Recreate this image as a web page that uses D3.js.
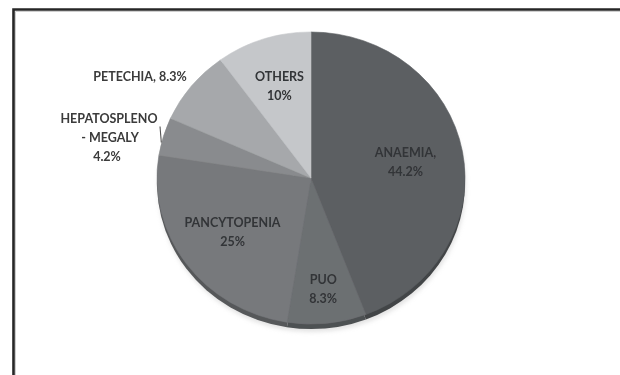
<!DOCTYPE html>
<html>
<head>
<meta charset="utf-8">
<script src="https://cdn.jsdelivr.net/npm/d3@7"></script>
<style>
  html, body { margin: 0; padding: 0; background: #fff; overflow: hidden; }
  svg { display: block; }
</style>
</head>
<body>
<svg id="chart" width="620" height="375"></svg>
<script>
// Clinical presentation shares (percent)
const categories = ["ANAEMIA", "PUO", "PANCYTOPENIA", "HEPATOSPLENO-MEGALY", "PETECHIA", "OTHERS"];
const values = [44.2, 8.3, 25, 4.2, 8.3, 10];
const valueLabels = ["44.2%", "8.3%", "25%", "4.2%", "8.3%", "10%"];

// Styling for each slice, in category order
const fills = ["#5c5f62", "#6c6f72", "#77797c", "#898b8e", "#a6a8ab", "#c5c7ca"];

const W = 620, H = 375;
const cx = 311, cy = 178;     // centre of the top face
const rx = 154, ry = 146;     // ellipse radii (slight tilt)
const depth = 5;              // visible thickness of the disc

const svg = d3.select("#chart");

// Frame: only the left and top edges fall inside the view
const frame = d3.path();
frame.moveTo(13.5, H);
frame.lineTo(13.5, 9.5);
frame.lineTo(W, 9.5);
const inner = d3.path();
inner.moveTo(15.5, H);
inner.lineTo(15.5, 11.5);
inner.lineTo(W, 11.5);
svg.append("path").attr("d", inner.toString())
  .attr("fill", "none").attr("stroke", "#cfcfcf").attr("stroke-width", 1);
svg.append("path").attr("d", frame.toString())
  .attr("fill", "none").attr("stroke", "#262626").attr("stroke-width", 2.6);

const defs = svg.append("defs");
defs.append("filter").attr("id", "soft")
  .append("feGaussianBlur").attr("stdDeviation", 0.45);
defs.append("filter").attr("id", "shadow")
  .attr("x", "-20%").attr("y", "-20%").attr("width", "140%").attr("height", "140%")
  .append("feGaussianBlur").attr("stdDeviation", 2.2);

const pie = d3.pie().sort(null).value(d => d)
  .startAngle(0).endAngle(2 * Math.PI);
const arcs = pie(values);
const arc = d3.arc().innerRadius(0).outerRadius(rx);

const scaleY = ry / rx;

// faint drop shadow under the disc
svg.append("ellipse")
  .attr("cx", cx + 1).attr("cy", cy + depth + 3)
  .attr("rx", rx).attr("ry", ry)
  .attr("fill", "#c8c8c8").attr("opacity", 0.5)
  .attr("filter", "url(#shadow)");

const pieG = svg.append("g").attr("filter", "url(#soft)");

// Side wall: the same slices, shifted down and darkened
pieG.append("g")
  .attr("transform", `translate(${cx},${cy + depth}) scale(1,${scaleY})`)
  .selectAll("path").data(arcs).join("path")
  .attr("d", arc)
  .attr("fill", (d, i) => d3.color(fills[i]).darker(0.9));

// Top face
pieG.append("g")
  .attr("transform", `translate(${cx},${cy}) scale(1,${scaleY})`)
  .selectAll("path").data(arcs).join("path")
  .attr("d", arc)
  .attr("fill", (d, i) => fills[i])
  .attr("stroke", (d, i) => fills[i])
  .attr("stroke-width", 0.6);

// Label placement: inside labels use a radius along the mid angle,
// outside labels sit to the upper left of the disc.
const labelRadius = [96, 118, 97, null, null, 102];
const font = "Lato, 'Open Sans', 'DejaVu Sans', sans-serif";

function polar(r, a) {
  return [cx + r * Math.sin(a), cy - r * Math.cos(a) * scaleY];
}

const labels = svg.append("g")
  .attr("font-family", font)
  .attr("font-size", 12.5)
  .attr("font-weight", 700)
  .attr("text-anchor", "middle")
  .attr("filter", "url(#soft)");

arcs.forEach((d, i) => {
  if (labelRadius[i] == null) return;
  const mid = (d.startAngle + d.endAngle) / 2;
  const [x, y] = polar(labelRadius[i], mid);
  const t = labels.append("text").attr("x", x).attr("y", y - 5)
    .attr("fill", "#323437");
  t.append("tspan").attr("x", x).attr("dy", 0)
    .text(categories[i] + (i === 0 ? "," : ""));
  t.append("tspan").attr("x", x).attr("dy", 19).text(valueLabels[i]);
});

// PETECHIA: one line, outside
const iPet = categories.indexOf("PETECHIA");
labels.append("text")
  .attr("x", 140).attr("y", 81)
  .attr("fill", "#3a3a3a")
  .text(`${categories[iPet]}, ${valueLabels[iPet]}`);

// HEPATOSPLENOMEGALY: three lines, outside, with a short leader
const iHep = 3;
const hepParts = categories[iHep].split("-");
const hep = labels.append("text").attr("x", 109).attr("y", 123).attr("fill", "#3a3a3a");
hep.append("tspan").attr("x", 109).attr("dy", 0).text(hepParts[0]);
hep.append("tspan").attr("x", 110).attr("dy", 19).text("- " + hepParts[1]);
hep.append("tspan").attr("x", 107).attr("dy", 19).text(valueLabels[iHep]);

// Leader from the label toward the slice edge
const hepMid = (arcs[iHep].startAngle + arcs[iHep].endAngle) / 2;
const [lx, ly] = polar(rx + 3, hepMid);
svg.append("line")
  .attr("x1", lx - 0.5).attr("y1", ly - 9)
  .attr("x2", lx + 0.8).attr("y2", ly + 7)
  .attr("stroke", "#555").attr("stroke-width", 1.1);
</script>
</body>
</html>
